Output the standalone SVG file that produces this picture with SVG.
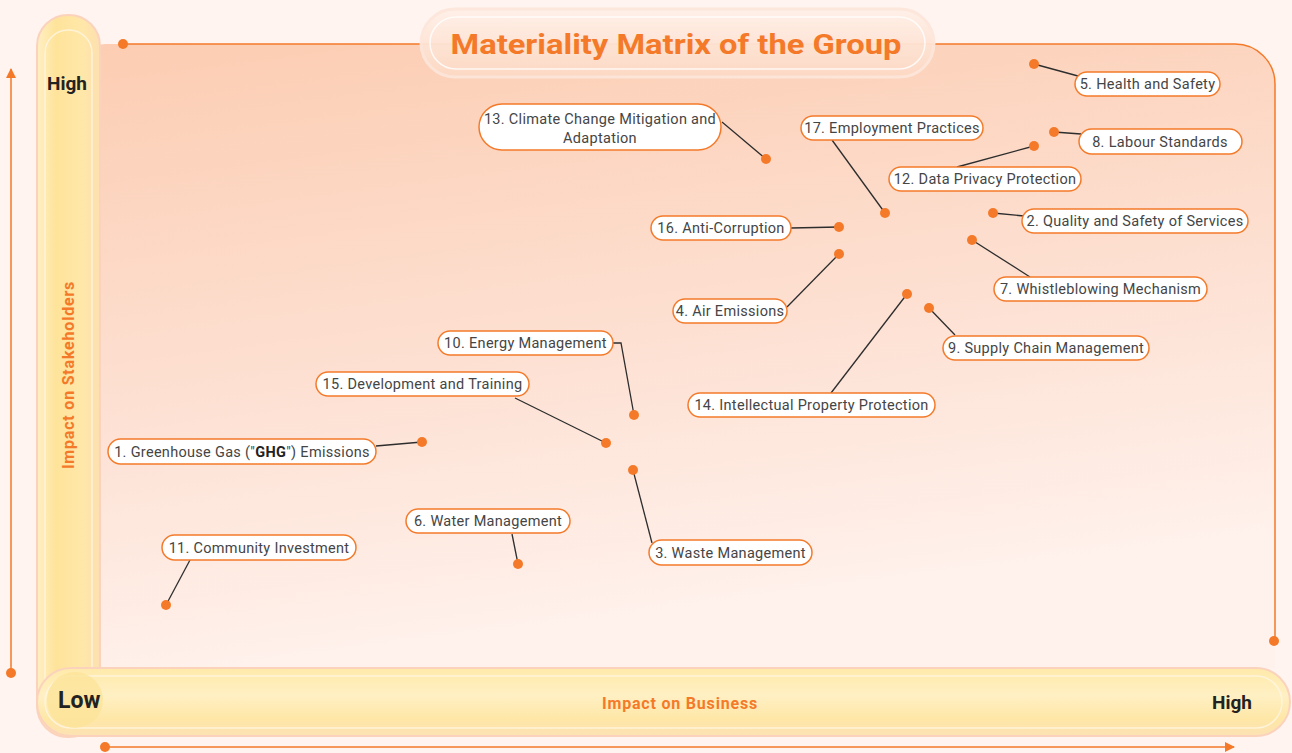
<svg xmlns="http://www.w3.org/2000/svg" width="1292" height="753" viewBox="0 0 1292 753">
<defs>
<linearGradient id="panel" x1="0" y1="0" x2="0.25" y2="1">
<stop offset="0" stop-color="#fccdb2"/>
<stop offset="0.55" stop-color="#fde0d2"/>
<stop offset="1" stop-color="#fff2ed"/>
</linearGradient>
<linearGradient id="vbar" x1="0" y1="0" x2="1" y2="0">
<stop offset="0" stop-color="#ffefc4"/>
<stop offset="0.3" stop-color="#fee39a"/>
<stop offset="0.7" stop-color="#ffe7a8"/>
<stop offset="1" stop-color="#fde0b0"/>
</linearGradient>
<linearGradient id="hbar" x1="0" y1="0" x2="0" y2="1">
<stop offset="0" stop-color="#ffeaa9"/>
<stop offset="0.4" stop-color="#fff0c4"/>
<stop offset="0.75" stop-color="#fee7a6"/>
<stop offset="1" stop-color="#fde2b4"/>
</linearGradient>
<linearGradient id="titleg" x1="0" y1="0" x2="0" y2="1">
<stop offset="0" stop-color="#fff0e8"/>
<stop offset="1" stop-color="#fdd9c4"/>
</linearGradient>
<marker id="arr" viewBox="0 0 10 10" refX="9" refY="5" markerWidth="10" markerHeight="10" markerUnits="userSpaceOnUse" orient="auto">
<path d="M0,0 L10,5 L0,10 Z" fill="#f47a2a"/>
</marker>
<style>
.pill{fill:#ffffff;stroke:#f47a2a;stroke-width:1.5}
.lbl{font-family:Roboto,"Liberation Sans",sans-serif;font-size:14.5px;letter-spacing:0.3px;fill:#454545;text-anchor:middle}
.dot{fill:#f47a2a}
.con{stroke:#2d2d2d;stroke-width:1.3;fill:none}
.axis{stroke:#f47a2a;stroke-width:1.5;fill:none}
.hl{font-family:Roboto,"Liberation Sans",sans-serif;font-weight:bold;fill:#222222}
.ax{font-family:Roboto,"Liberation Sans",sans-serif;font-weight:bold;font-size:16px;letter-spacing:0.8px;fill:#f47a2a}
</style>
</defs>
<rect x="0" y="0" width="1292" height="753" fill="#fff4f0"/>
<!-- panel -->
<path d="M120,44 H1235 A40,40 0 0 1 1275,84 V668 H80 V70 A26,26 0 0 1 106,44 Z" fill="url(#panel)"/>
<path d="M123,44 H1235 A40,40 0 0 1 1275,84 V641" class="axis"/>
<circle cx="123" cy="44" r="5" class="dot"/>
<circle cx="1274" cy="641" r="5" class="dot"/>
<!-- axes -->
<g id="axes">
<line x1="11" y1="673" x2="11" y2="69" class="axis" marker-end="url(#arr)"/>
<circle cx="11" cy="673" r="5" class="dot"/>
<line x1="105" y1="747" x2="1234" y2="747" class="axis" marker-end="url(#arr)"/>
<circle cx="105" cy="747" r="5" class="dot"/>
</g>
<!-- bars -->
<g id="bars">
<rect x="37" y="15" width="63" height="722" rx="31" fill="url(#vbar)" stroke="#fbd3bd" stroke-width="2"/>
<rect x="45" y="30" width="47" height="690" rx="23" fill="none" stroke="#fff6e4" stroke-width="1.5" opacity="0.8"/>
<rect x="37" y="668" width="1253" height="68" rx="34" fill="url(#hbar)" stroke="#fbd3bd" stroke-width="2"/>
<rect x="45" y="676" width="1237" height="52" rx="26" fill="none" stroke="#fff6e4" stroke-width="1.5" opacity="0.8"/>
<circle cx="75" cy="700" r="28" fill="#fde49a" opacity="0.8"/>
<text x="47" y="90" class="hl" font-size="19">High</text>
<text x="58" y="708" class="hl" font-size="23">Low</text>
<text x="1212" y="709" class="hl" font-size="19">High</text>
<text x="0" y="0" class="ax" text-anchor="middle" transform="translate(74,375) rotate(-90)">Impact on Stakeholders</text>
<text x="680" y="709" class="ax" text-anchor="middle">Impact on Business</text>
</g>
<!-- title -->
<g id="title">
<rect x="421" y="9" width="513" height="68" rx="34" fill="url(#titleg)" stroke="#fde6da" stroke-width="3" opacity="0.95"/>
<rect x="430" y="17" width="495" height="52" rx="26" fill="none" stroke="#ffffff" stroke-width="1.5" opacity="0.8"/>
<text x="676" y="54" font-family="Roboto,'Liberation Sans',sans-serif" font-weight="bold" font-size="28" fill="#f47a2a" text-anchor="middle" textLength="451" lengthAdjust="spacingAndGlyphs">Materiality Matrix of the Group</text>
</g>
<!-- connectors -->
<g id="connectors">
<line x1="1034" y1="64" x2="1078" y2="76" class="con"/>
<line x1="1054" y1="132" x2="1081" y2="134" class="con"/>
<line x1="722" y1="122" x2="766" y2="159" class="con"/>
<line x1="832" y1="140" x2="885" y2="213" class="con"/>
<line x1="957" y1="167" x2="1034" y2="146" class="con"/>
<line x1="993" y1="213" x2="1024" y2="216" class="con"/>
<line x1="791" y1="228" x2="839" y2="227" class="con"/>
<line x1="787" y1="307" x2="839" y2="254" class="con"/>
<line x1="1030" y1="277" x2="972" y2="240" class="con"/>
<line x1="955" y1="335" x2="929" y2="308" class="con"/>
<line x1="831" y1="393" x2="907" y2="294" class="con"/>
<polyline points="613,343 621,343 634,415" class="con"/>
<line x1="515" y1="398" x2="606" y2="443" class="con"/>
<line x1="376" y1="446" x2="422" y2="442" class="con"/>
<line x1="512" y1="534" x2="518" y2="564" class="con"/>
<line x1="652" y1="543" x2="633" y2="470" class="con"/>
<line x1="190" y1="560" x2="166" y2="605" class="con"/>
</g>
<g id="n5"><circle cx="1034" cy="64" r="5" class="dot"/><rect x="1075" y="72" width="145" height="24" rx="12" class="pill"/><text x="1147.5" y="89" class="lbl">5. Health and Safety</text></g>
<g id="n8"><circle cx="1054" cy="132" r="5" class="dot"/><rect x="1079" y="129" width="163" height="25" rx="12.5" class="pill"/><text x="1160" y="147" class="lbl">8. Labour Standards</text></g>
<g id="n13"><circle cx="766" cy="159" r="5" class="dot"/><rect x="479" y="104" width="242" height="46" rx="23" class="pill"/><text x="600" y="124" class="lbl">13. Climate Change Mitigation and</text><text x="600" y="143" class="lbl">Adaptation</text></g>
<g id="n17"><circle cx="885" cy="213" r="5" class="dot"/><rect x="801" y="116" width="182" height="24" rx="12" class="pill"/><text x="892" y="133" class="lbl">17. Employment Practices</text></g>
<g id="n12"><circle cx="1034" cy="146" r="5" class="dot"/><rect x="889" y="167" width="192" height="24" rx="12" class="pill"/><text x="985" y="184" class="lbl">12. Data Privacy Protection</text></g>
<g id="n2"><circle cx="993" cy="213" r="5" class="dot"/><rect x="1022" y="209" width="226" height="24" rx="12" class="pill"/><text x="1135" y="226" class="lbl">2. Quality and Safety of Services</text></g>
<g id="n16"><circle cx="839" cy="227" r="5" class="dot"/><rect x="651" y="216" width="140" height="24" rx="12" class="pill"/><text x="721" y="233" class="lbl">16. Anti-Corruption</text></g>
<g id="n4"><circle cx="839" cy="254" r="5" class="dot"/><rect x="673" y="299" width="114" height="24" rx="12" class="pill"/><text x="730" y="316" class="lbl">4. Air Emissions</text></g>
<g id="n7"><circle cx="972" cy="240" r="5" class="dot"/><rect x="994" y="277" width="213" height="24" rx="12" class="pill"/><text x="1100.5" y="294" class="lbl">7. Whistleblowing Mechanism</text></g>
<g id="n9"><circle cx="929" cy="308" r="5" class="dot"/><rect x="943" y="336" width="206" height="24" rx="12" class="pill"/><text x="1046" y="353" class="lbl">9. Supply Chain Management</text></g>
<g id="n14"><circle cx="907" cy="294" r="5" class="dot"/><rect x="688" y="393" width="247" height="24" rx="12" class="pill"/><text x="811.5" y="410" class="lbl">14. Intellectual Property Protection</text></g>
<g id="n10"><circle cx="634" cy="415" r="5" class="dot"/><rect x="438" y="331" width="175" height="24" rx="12" class="pill"/><text x="525.5" y="348" class="lbl">10. Energy Management</text></g>
<g id="n15"><circle cx="606" cy="443" r="5" class="dot"/><rect x="316" y="372" width="213" height="24" rx="12" class="pill"/><text x="422.5" y="389" class="lbl">15. Development and Training</text></g>
<g id="n1"><circle cx="422" cy="442" r="5" class="dot"/><rect x="108" y="439" width="268" height="25" rx="12.5" class="pill"/><text x="242" y="457" class="lbl">1. Greenhouse Gas ("<tspan font-weight="bold" fill="#222">GHG</tspan>") Emissions</text></g>
<g id="n6"><circle cx="518" cy="564" r="5" class="dot"/><rect x="406" y="509" width="164" height="24" rx="12" class="pill"/><text x="488" y="526" class="lbl">6. Water Management</text></g>
<g id="n3"><circle cx="633" cy="470" r="5" class="dot"/><rect x="649" y="540" width="163" height="25" rx="12.5" class="pill"/><text x="730.5" y="558" class="lbl">3. Waste Management</text></g>
<g id="n11"><circle cx="166" cy="605" r="5" class="dot"/><rect x="162" y="535" width="194" height="25" rx="12.5" class="pill"/><text x="259" y="553" class="lbl">11. Community Investment</text></g>
</svg>
